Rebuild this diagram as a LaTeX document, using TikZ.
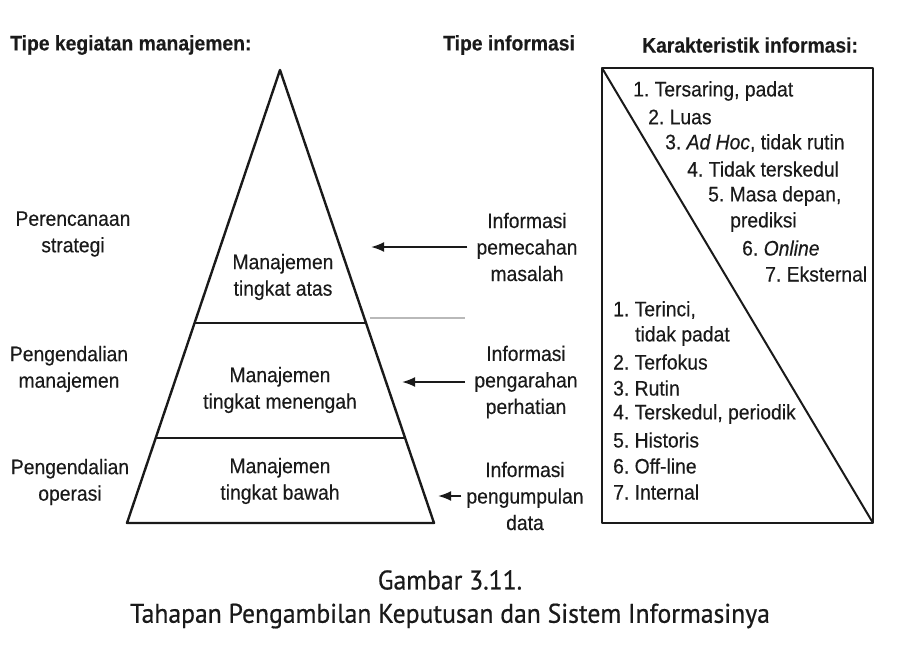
\documentclass[tikz,border=0pt]{standalone}
\usepackage{fontspec}
\setmainfont{Liberation Sans}[FakeStretch=0.92, FakeBold=0.3]
\newfontfamily\capfont{PT Sans}[FakeStretch=0.95, FakeBold=0.6]
\usetikzlibrary{arrows.meta}
\definecolor{ink}{HTML}{1A1A1A}
\frenchspacing
\begin{document}
\begin{tikzpicture}[x=1pt,y=-1pt,
  txt/.style={font=\fontsize{21}{26.5}\selectfont, text=ink, inner sep=0pt, align=center},
  lt/.style={font=\fontsize{21}{26.5}\selectfont, text=ink, inner sep=0pt, anchor=west},
  hdr/.style={font=\bfseries\fontsize{21}{24}\selectfont, text=ink, inner sep=0pt, anchor=west},
  captext/.style={font=\capfont\fontsize{27}{30}\selectfont, text=ink, inner sep=0pt},
  ln/.style={draw=ink, line width=2.4pt, line join=round},
  arr/.style={draw=ink, line width=2pt, -{Latex[length=13pt,width=10pt]}},
]
\useasboundingbox (0,0) rectangle (897,654);

% headers
\node[hdr] (h1) at (10,45) {Tipe kegiatan manajemen:};
\node[hdr] (h2) at (443,45) {Tipe informasi};
\node[hdr] (h3) at (642,45) {Karakteristik informasi:};

% pyramid
\coordinate (apex) at (280,70);
\coordinate (bl) at (127,523);
\coordinate (br) at (434,523);
\coordinate (m1l) at (194.6,323);
\coordinate (m1r) at (366,323);
\coordinate (m2l) at (155.7,438);
\coordinate (m2r) at (405,438);
\draw[ln] (apex) -- (br) -- (bl) -- cycle;
\draw[ln] (m1l) -- (m1r);
\draw[ln] (m2l) -- (m2r);

\node[txt] (p1) at (283,277) {Manajemen\\tingkat atas};
\node[txt] (p2) at (280,390) {Manajemen\\tingkat menengah};
\node[txt] (p3) at (280,481) {Manajemen\\tingkat bawah};

% left labels
\node[txt] (l1) at (73,234) {Perencanaan\\strategi};
\node[txt] (l2) at (69,369) {Pengendalian\\manajemen};
\node[txt] (l3) at (70,482) {Pengendalian\\operasi};

% information types
\node[txt] (i1) at (527,247) {Informasi\\pemecahan\\masalah};
\node[txt] (i2) at (526,382) {Informasi\\pengarahan\\perhatian};
\node[txt] (i3) at (525,496) {Informasi\\pengumpulan\\data};

\coordinate (t1) at (371,247);
\coordinate (t2) at (402,382);
\coordinate (t3) at (438,496);
\draw[arr] ([xshift=-9pt]i1.west) -- (t1);
\draw[arr] ([xshift=-9pt]i2.west) -- (t2);
\draw[arr] ([xshift=-5pt]i3.west) -- (t3);

% faint leftover line
\coordinate (g1) at (370,318);
\coordinate (g2) at (465,318);
\draw[gray!55, line width=1.6pt] (g1) -- (g2);

% characteristics box
\coordinate (btl) at (602,68);
\coordinate (bbr) at (873,523);
\draw[ln] (btl) rectangle (bbr);
\draw[draw=ink, line width=2pt] (btl) -- (bbr);

\node[lt] (u1) at (633,91) {1. Tersaring, padat};
\node[lt] (u2) at (648,117) {2. Luas};
\node[lt] (u3) at (665,143) {3. \textit{Ad Hoc}, tidak rutin};
\node[lt] (u4) at (687,169) {4. Tidak terskedul};
\node[lt] (u5) at (708,196) {5. Masa depan,};
\node[lt] (u5b) at (730,222) {prediksi};
\node[lt] (u6) at (742,248) {6. \textit{Online}};
\node[lt] (u7) at (765,274) {7. Eksternal};

\node[lt] (d1) at (613,310) {1. Terinci,};
\node[lt] (d1b) at (635,336) {tidak padat};
\node[lt] (d2) at (613,362) {2. Terfokus};
\node[lt] (d3) at (613,388) {3. Rutin};
\node[lt] (d4) at (613,414) {4. Terskedul, periodik};
\node[lt] (d5) at (613,440) {5. Historis};
\node[lt] (d6) at (613,466) {6. Off-line};
\node[lt] (d7) at (613,492) {7. Internal};

% caption
\node[captext] (c1) at (450,580) {Gambar 3.11.};
\node[captext] (c2) at (450,616) {Tahapan Pengambilan Keputusan dan Sistem Informasinya};
\end{tikzpicture}
\end{document}
